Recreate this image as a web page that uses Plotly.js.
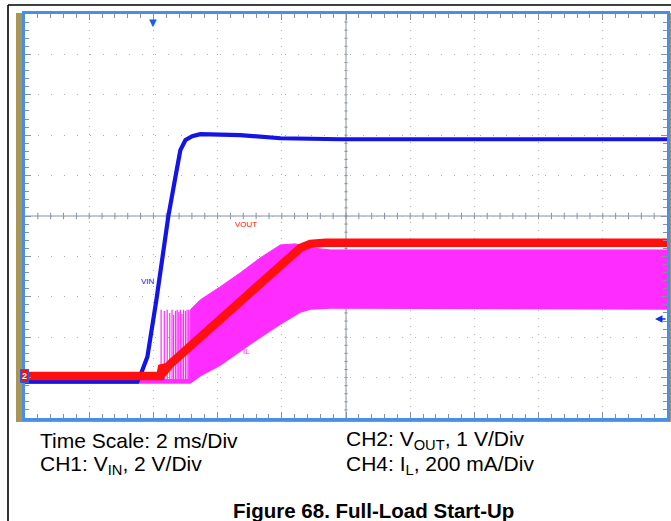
<!DOCTYPE html>
<html>
<head>
<meta charset="utf-8">
<script src="https://cdn.plot.ly/plotly-3.0.1.min.js"></script>
<style>html,body{margin:0;padding:0;background:#fff;}#chart{width:671px;height:521px;}</style>
</head>
<body>
<div id="chart"></div>
<script>
// ---- data (time in ms, relative to trigger) ----
const timeVin = [-4, -0.5, -0.374, -0.187, 0.093, 0.28, 0.467, 0.685, 0.84, 1.0, 1.21, 1.46, 2.71, 3.96, 5.83, 16];
const vin     = [0, 0, 0.44, 1.23, 4.05, 6.03, 8.2, 10.13, 11.46, 11.96, 12.15, 12.25, 12.2, 12.05, 12.0, 12.0];

const timeVout = [-4, 0.218, 0.28, 0.374, 0.53, 2.71, 4.27, 4.58, 4.89, 5.36, 16];
const vout     = [0, 0, 0.26, 0.15, 0.30, 1.88, 2.97, 3.17, 3.27, 3.30, 3.30];

const timeIlPeak = [-4, 1.12, 1.153, 1.464, 2.087, 2.710, 3.333, 3.956, 4.424, 4.891, 5.514, 16];
const ilPeak     = [10, 10, 356, 405, 470, 539, 613, 677, 682, 662, 652, 652];
const timeIlValley = [-4, 1.153, 1.464, 2.087, 3.022, 3.956, 4.579, 4.891, 5.514, 16];
const ilValley     = [-10, -10, 25, 79, 183, 282, 341, 356, 361, 356];

const spikeTimes = [0.24, 0.34, 0.43, 0.51, 0.58, 0.63, 0.69, 0.74, 0.79, 0.84, 0.89, 0.94, 1.0, 1.05, 1.1];
const spikePeaks = [356, 350, 356, 340, 356, 330, 350, 356, 345, 356, 335, 356, 350, 356, 356];

const triggerTime = 0;      // ms
const triggerLevel = 3.1;   // V on CH1

// ---- scope settings ----
const timePerDiv = 2, timeStart = -4, hDivs = 10, vDivs = 10;
const ch1 = {perDiv: 2,   zeroDiv: -4.10};
const ch2 = {perDiv: 1,   zeroDiv: -3.96};
const ch4 = {perDiv: 200, zeroDiv: -4.10};
const chRange = c => [(-vDivs/2 - c.zeroDiv) * c.perDiv, (vDivs/2 - c.zeroDiv) * c.perDiv];

const W = 671, H = 521;
const xd = [25 / W, 667 / W];
const yd = [1 - 418 / H, 1 - 14 / H];
const xRange = [timeStart, timeStart + hDivs * timePerDiv];
const xCenter = (xRange[0] + xRange[1]) / 2;

const gridC = '#b0b0b0', tickC = '#8490a8', frameC = '#4a8ee6';
const gold = '#a99558';
const BLUE = '#1414e6', RED = '#ff1010', MAG = '#ff2cff';

// spike trace built from spike arrays
const sx = [], sy = [];
spikeTimes.forEach((t, i) => { sx.push(t, t, null); sy.push(0, spikePeaks[i], null); });

// graticule centre cross with small ticks
let cp = '';
const tx = timePerDiv / 5, hl = 0.08, vl = 0.05;
for (let k = 1; k < hDivs * 5; k++) {
  const x = xRange[0] + k * tx;
  cp += `M${x},${-hl} L${x},${hl} `;
}
for (let k = 1; k < vDivs * 5; k++) {
  const y = -vDivs / 2 + k * 0.2;
  cp += `M${xCenter - vl},${y} L${xCenter + vl},${y} `;
}

// axis order: y2 = CH4 (IL, bottom layer), y3 = CH1 (VIN), y4 = CH2 (VOUT, top)
const traces = [
  {x: timeIlValley, y: ilValley, xaxis: 'x', yaxis: 'y2', mode: 'lines', line: {width: 0, color: MAG}, hoverinfo: 'skip'},
  {x: timeIlPeak, y: ilPeak, xaxis: 'x', yaxis: 'y2', mode: 'lines', line: {width: 1, color: MAG}, fill: 'tonexty', fillcolor: MAG, hoverinfo: 'skip'},
  {x: sx, y: sy, xaxis: 'x', yaxis: 'y2', mode: 'lines', line: {width: 1.2, color: MAG}, connectgaps: false, hoverinfo: 'skip'},
  {x: timeVin, y: vin, xaxis: 'x', yaxis: 'y3', mode: 'lines', line: {width: 4.2, color: BLUE}, hoverinfo: 'skip'},
  {x: timeVout, y: vout, xaxis: 'x', yaxis: 'y4', mode: 'lines', line: {width: 8.5, color: RED}, hoverinfo: 'skip'}
];

const txt = (x, y, text, size, anchor) => ({xref: 'paper', yref: 'paper', x: x / W, y: 1 - y / H, xanchor: anchor || 'left',
  yanchor: 'middle', showarrow: false, text: text, font: {size: size, color: '#000'}});

const layout = {
  width: W, height: H, margin: {l: 0, r: 0, t: 0, b: 0},
  paper_bgcolor: '#fff', plot_bgcolor: '#fff', showlegend: false,
  font: {family: 'Liberation Sans, Arial, sans-serif'},
  xaxis: {domain: xd, anchor: 'y', range: xRange, tick0: timeStart, dtick: timePerDiv, showticklabels: false, zeroline: false,
    showgrid: true, gridcolor: gridC, griddash: '1px,7px', gridwidth: 1,
    ticks: 'inside', ticklen: 6, tickcolor: tickC,
    minor: {dtick: timePerDiv / 5, ticks: 'inside', ticklen: 4, tickcolor: tickC, showgrid: false},
    showline: true, linecolor: frameC, linewidth: 3, mirror: 'ticks'},
  yaxis: {domain: yd, anchor: 'x', range: [-vDivs/2, vDivs/2], tick0: -vDivs/2, dtick: 1, showticklabels: false, zeroline: false,
    showgrid: true, gridcolor: gridC, griddash: '1px,12px', gridwidth: 1,
    ticks: 'inside', ticklen: 6, tickcolor: tickC,
    minor: {dtick: 0.2, ticks: 'inside', ticklen: 4, tickcolor: tickC, showgrid: false},
    showline: true, linecolor: frameC, linewidth: 3, mirror: 'ticks'},
  yaxis2: {overlaying: 'y', anchor: 'x', range: chRange(ch4), visible: false},
  yaxis3: {overlaying: 'y', anchor: 'x', range: chRange(ch1), visible: false},
  yaxis4: {overlaying: 'y', anchor: 'x', range: chRange(ch2), visible: false},
  shapes: [
    {type: 'line', xref: 'x', yref: 'y', x0: xRange[0], x1: xRange[1], y0: 0, y1: 0, line: {color: tickC, width: 1}, layer: 'below'},
    {type: 'line', xref: 'x', yref: 'y', x0: xCenter, x1: xCenter, y0: -vDivs/2, y1: vDivs/2, line: {color: tickC, width: 1}, layer: 'below'},
    {type: 'path', xref: 'x', yref: 'y', path: cp, line: {color: tickC, width: 1}, layer: 'below'},
    {type: 'rect', xref: 'paper', yref: 'paper', x0: 16 / W, x1: 22 / W, y0: 1 - 422 / H, y1: 1 - 13 / H, fillcolor: gold, line: {width: 0}, layer: 'below'},
    {type: 'rect', xref: 'paper', yref: 'paper', x0: 668 / W, x1: 1, y0: 1 - 422 / H, y1: 1 - 13 / H, fillcolor: gold, line: {width: 0}, layer: 'below'},
    {type: 'rect', xref: 'paper', yref: 'paper', x0: 16 / W, x1: 1, y0: 1 - 422 / H, y1: 1 - 419.5 / H, fillcolor: gold, line: {width: 0}, layer: 'below'},
    {type: 'line', xref: 'paper', yref: 'paper', x0: 8 / W, x1: 1, y0: 1 - 5 / H, y1: 1 - 5 / H, line: {color: '#000', width: 1.6}},
    {type: 'line', xref: 'paper', yref: 'paper', x0: 8 / W, x1: 8 / W, y0: 0, y1: 1 - 5 / H, line: {color: '#000', width: 1.6}}
  ],
  annotations: [
    {xref: 'x', yref: 'paper', x: triggerTime, y: yd[1] - 0.002, yanchor: 'top', showarrow: false, text: '▼',
     font: {size: 10, color: '#1a5fe0', family: 'DejaVu Sans'}},
    {xref: 'paper', yref: 'y3', x: 655 / W, y: triggerLevel, ax: 12, ay: 0, showarrow: true, text: '',
     arrowhead: 2, arrowsize: 1, arrowwidth: 1.5, arrowcolor: '#1030e0'},
    {xref: 'paper', yref: 'y4', x: 20 / W, y: 0, showarrow: false, text: '<b>2</b>', font: {size: 9, color: '#fff'},
     bgcolor: '#ee1111', bordercolor: '#2a5ae0', borderwidth: 1, borderpad: 1},
    {xref: 'x', yref: 'y', x: -0.16, y: -1.63, showarrow: false, text: 'VIN', font: {size: 8, color: BLUE}},
    {xref: 'x', yref: 'y', x: 2.87, y: -0.22, showarrow: false, text: 'VOUT', font: {size: 8, color: RED}},
    {xref: 'x', yref: 'y', x: 2.9, y: -3.36, showarrow: false, text: 'IL', font: {size: 8, color: MAG}},
    txt(38, 440, 'Time Scale: 2 ms/Div', 21),
    txt(38, 465, 'CH1: V<sub>IN</sub>, 2 V/Div', 21),
    txt(344, 440, 'CH2: V<sub>OUT</sub>, 1 V/Div', 21),
    txt(344, 465, 'CH4: I<sub>L</sub>, 200 mA/Div', 21),
    txt(374, 510, '<b>Figure 68. Full-Load Start-Up</b>', 20.5, 'center')
  ]
};

Plotly.newPlot('chart', traces, layout, {displayModeBar: false});
</script>
</body>
</html>
